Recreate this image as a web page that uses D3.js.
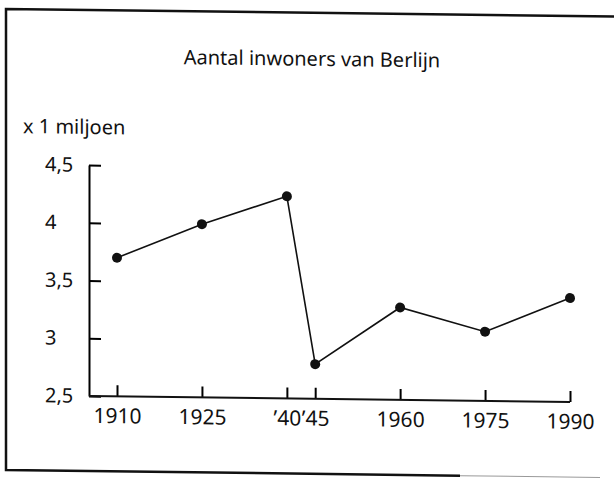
<!DOCTYPE html>
<html>
<head>
<meta charset="utf-8">
<script src="https://cdn.jsdelivr.net/npm/d3@7"></script>
<style>
  body { margin: 0; background: #fff; }
  text { font-family: "Noto Sans", sans-serif; fill: #111; }
</style>
</head>
<body>
<div id="graph"></div>
<script>
var width = 614, height = 479

// data
var years = [1910, 1925, 1940, 1945, 1960, 1975, 1990]
var inwoners = [3.7, 4.0, 4.25, 2.8, 3.3, 3.1, 3.4]
var yearLabels = ['1910', '1925', '\u201940', '\u201945', '1960', '1975', '1990']
var yTicks = [2.5, 3, 3.5, 4, 4.5]
var yTickLabels = ['2,5', '3', '3,5', '4', '4,5']

var title = 'Aantal inwoners van Berlijn'
var unitLabel = 'x 1 miljoen'

var axisX = 89, skew = 0.0125

var svg = d3.select('#graph').html('').append('svg')
    .attr('width', width)
    .attr('height', height)

// the scan is a little skewed, so lean everything the same way
var root = svg.append('g')
    .attr('transform', 'matrix(1,' + skew + ',0,1,0,' + (-axisX * skew) + ')')

// frame of the clipping
root.append('path')
    .attr('d', 'M614,10H6V471H460')
    .attr('fill', 'none')
    .attr('stroke', '#111')
    .attr('stroke-width', 2.5)
root.append('path')
    .attr('d', 'M460,471H600')
    .attr('fill', 'none')
    .attr('stroke', '#999')
    .attr('stroke-width', 1)

root.append('text')
    .attr('x', 312)
    .attr('y', 63)
    .attr('text-anchor', 'middle')
    .style('font-size', '20px')
    .text(title)

root.append('text')
    .attr('x', 23)
    .attr('y', 134)
    .style('font-size', '20px')
    .text(unitLabel)

var g = root.append('g').attr('transform', 'translate(' + axisX + ',0)')

var x = d3.scaleLinear().domain([1910, 1990]).range([28, 481])
var y = d3.scaleLinear().domain([2.5, 4.5]).range([396, 165])

var yAxis = d3.axisLeft(y)
    .tickValues(yTicks)
    .tickFormat(function(d, i){ return yTickLabels[i] })
    .tickSize(-12)
    .tickSizeOuter(0)

var yAxisG = g.append('g').call(yAxis)
yAxisG.select('.domain').attr('stroke-width', 2)
yAxisG.selectAll('.tick line').attr('stroke-width', 2)
yAxisG.selectAll('.tick text')
    .attr('x', 45 - axisX)
    .attr('text-anchor', 'start')
    .style('font-size', '20px')
    .attr('fill', '#111')

var xAxis = d3.axisBottom(x)
    .tickValues(years)
    .tickFormat(function(d, i){ return yearLabels[i] })
    .tickSize(-11)
    .tickSizeOuter(0)
    .tickPadding(12)

var xAxisG = g.append('g')
    .attr('transform', 'translate(0,' + y(2.5) + ')')
    .call(xAxis)
xAxisG.select('.domain').remove()
xAxisG.append('line')
    .attr('x1', 0)
    .attr('x2', x(1990))
    .attr('stroke', '#111')
    .attr('stroke-width', 2)
xAxisG.selectAll('.tick line').attr('stroke-width', 2)
xAxisG.selectAll('.tick text')
    .style('font-size', '21px')
    .attr('fill', '#111')

var points = years.map(function(d, i){ return [d, inwoners[i]] })

g.append('path')
    .datum(points)
    .attr('d', d3.line().x(function(d){ return x(d[0]) }).y(function(d){ return y(d[1]) }))
    .attr('fill', 'none')
    .attr('stroke', '#111')
    .attr('stroke-width', 1.6)

g.selectAll('circle.point').data(points).enter().append('circle')
    .attr('class', 'point')
    .attr('cx', function(d){ return x(d[0]) })
    .attr('cy', function(d){ return y(d[1]) })
    .attr('r', 5)
    .attr('fill', '#111')
</script>
</body>
</html>
